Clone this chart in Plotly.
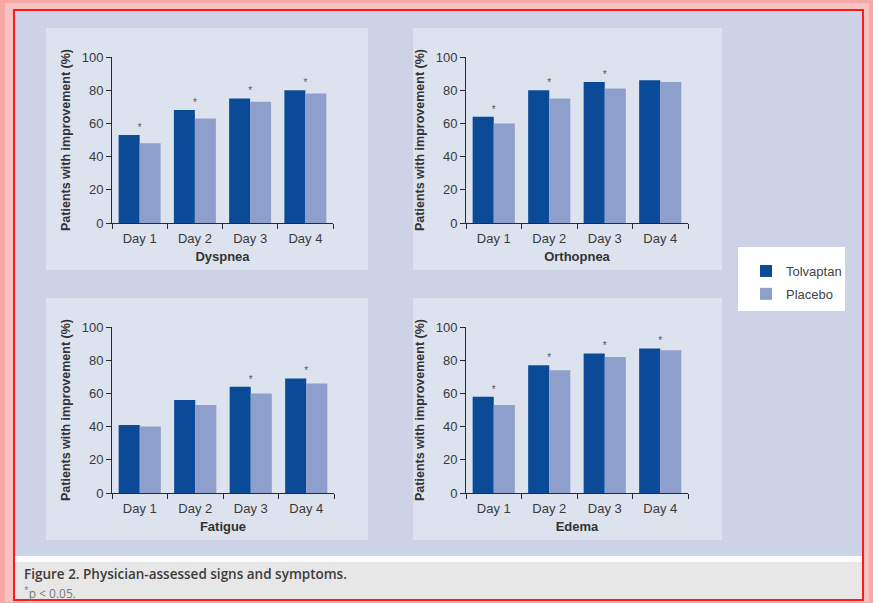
import plotly.graph_objects as go

W, H = 873, 603

days = ["Day 1", "Day 2", "Day 3", "Day 4"]
series_names = ["Tolvaptan", "Placebo"]

# Percent of patients improved, per symptom
dyspnea_tolvaptan = [53, 68, 75, 80]
dyspnea_placebo = [48, 63, 73, 78]
dyspnea_sig = [True, True, True, True]

orthopnea_tolvaptan = [64, 80, 85, 86]
orthopnea_placebo = [60, 75, 81, 85]
orthopnea_sig = [True, True, True, False]

fatigue_tolvaptan = [41, 56, 64, 69]
fatigue_placebo = [40, 53, 60, 66]
fatigue_sig = [False, False, True, True]

edema_tolvaptan = [58, 77, 84, 87]
edema_placebo = [53, 74, 82, 86]
edema_sig = [True, True, True, True]

yticks = [0, 20, 40, 60, 80, 100]

c_tol = "#0b4a97"
c_pla = "#8e9fcb"
lavender = "#cdd3e6"
panel_bg = "#dde2ef"
axis_col = "#2a2a2a"
font_fam = "Liberation Sans, Arial, sans-serif"
cap_fam = "Open Sans, Liberation Sans, sans-serif"

# panel: (title, tolvaptan, placebo, sig, plot-area px box, panel px box)
panels = [
    ("Dyspnea", dyspnea_tolvaptan, dyspnea_placebo, dyspnea_sig, (112, 333, 57, 223), (46, 368, 28, 270)),
    ("Orthopnea", orthopnea_tolvaptan, orthopnea_placebo, orthopnea_sig, (466, 688, 57, 223), (413, 722, 28, 270)),
    ("Fatigue", fatigue_tolvaptan, fatigue_placebo, fatigue_sig, (112, 334, 327, 493), (46, 368, 298, 540)),
    ("Edema", edema_tolvaptan, edema_placebo, edema_sig, (466, 688, 327, 493), (413, 722, 298, 540)),
]


def fx(px):
    return px / W


def fy(py):
    return 1 - py / H


fig = go.Figure()
shapes = []

# outer frame: pink halo, red border, lavender field, caption strip
shapes.append(dict(type="rect", xref="paper", yref="paper", x0=0, x1=1, y0=0, y1=1,
                   fillcolor="#f5aaa8", line=dict(width=0), layer="below"))
shapes.append(dict(type="rect", xref="paper", yref="paper", x0=fx(5), x1=fx(869), y0=fy(602), y1=fy(3),
                   fillcolor="#f8c2c0", line=dict(width=0), layer="below"))
shapes.append(dict(type="rect", xref="paper", yref="paper", x0=fx(14), x1=fx(863), y0=fy(600), y1=fy(10),
                   fillcolor=lavender, line=dict(color="#ff1a1a", width=2), layer="below"))
shapes.append(dict(type="rect", xref="paper", yref="paper", x0=fx(15), x1=fx(862), y0=fy(599), y1=fy(556),
                   fillcolor="#fbfbfc", line=dict(width=0), layer="below"))
shapes.append(dict(type="rect", xref="paper", yref="paper", x0=fx(15), x1=fx(862), y0=fy(599), y1=fy(562),
                   fillcolor="#e7e7e8", line=dict(width=0), layer="below"))
# legend box
shapes.append(dict(type="rect", xref="paper", yref="paper", x0=fx(738), x1=fx(845), y0=fy(311), y1=fy(247),
                   fillcolor="white", line=dict(width=0), layer="below"))

layout_axes = {}
for i, (title, tol, pla, sig, box, pbox) in enumerate(panels):
    n = "" if i == 0 else str(i + 1)
    xa, ya = "x" + n, "y" + n
    x0, x1, y0, y1 = box
    px0, px1, py0, py1 = pbox
    shapes.append(dict(type="rect", xref="paper", yref="paper", x0=fx(px0), x1=fx(px1),
                       y0=fy(py1), y1=fy(py0), fillcolor=panel_bg, line=dict(width=0), layer="below"))
    fig.add_trace(go.Bar(x=days, y=tol, name=series_names[0], marker=dict(color=c_tol, line=dict(width=0)),
                         xaxis=xa, yaxis=ya, showlegend=(i == 0), legendgroup="t"))
    fig.add_trace(go.Bar(x=days, y=pla, name=series_names[1], marker=dict(color=c_pla, line=dict(width=0)),
                         xaxis=xa, yaxis=ya, showlegend=(i == 0), legendgroup="p"))
    # significance markers above each flagged day
    sx = [d for d, s in zip(days, sig) if s]
    sy = [max(t, p) + 4 for t, p, s in zip(tol, pla, sig) if s]
    fig.add_trace(go.Scatter(x=sx, y=sy, mode="text", text=["*"] * len(sx),
                             textfont=dict(size=10, color="#555555", family=font_fam),
                             textposition="middle center", showlegend=False, hoverinfo="skip",
                             xaxis=xa, yaxis=ya))
    layout_axes["xaxis" + n] = dict(
        domain=[fx(x0), fx(x1)], anchor=ya, type="category", tickson="boundaries", automargin=False,
        ticks="outside", ticklen=5, tickcolor=axis_col, showline=True, linecolor=axis_col, linewidth=1,
        tickfont=dict(size=13, color="#3a3a3a", family=font_fam), ticklabelstandoff=3,
        title=dict(text="<b>" + title + "</b>", font=dict(size=13, color="#333333", family=font_fam), standoff=7),
        showgrid=False, zeroline=False, fixedrange=True,
    )
    layout_axes["yaxis" + n] = dict(
        domain=[fy(y1), fy(y0)], anchor=xa, range=[0, 100], tickvals=yticks, automargin=False,
        ticks="outside", ticklen=5, tickcolor=axis_col, showline=True, linecolor=axis_col, linewidth=1,
        tickfont=dict(size=13, color="#3a3a3a", family=font_fam),
        title=dict(text="<b>Patients with improvement (%)</b>",
                   font=dict(size=12.5, color="#333333", family=font_fam), standoff=8),
        showgrid=False, zeroline=False, fixedrange=True,
    )

annotations = [
    dict(xref="paper", yref="paper", x=fx(22), y=fy(574), xanchor="left", yanchor="middle",
         text="Figure 2. Physician-assessed signs and symptoms.", showarrow=False,
         font=dict(size=13.5, color="#3c3c3c", family=cap_fam, weight=600)),
    dict(xref="paper", yref="paper", x=fx(22), y=fy(593), xanchor="left", yanchor="middle",
         text="<sup>*</sup>p < 0.05.", showarrow=False,
         font=dict(size=12, color="#7a7a7a", family=cap_fam)),
]

fig.update_layout(
    width=W, height=H, margin=dict(l=0, r=0, t=0, b=0, autoexpand=False),
    paper_bgcolor="#f5aaa8", plot_bgcolor="white",
    barmode="group", bargap=0.24, bargroupgap=0,
    font=dict(family=font_fam, color="#333333"),
    shapes=shapes, annotations=annotations,
    legend=dict(x=fx(746), y=fy(256), xanchor="left", yanchor="top",
                bgcolor="rgba(0,0,0,0)", borderwidth=0,
                font=dict(size=13, color="#444444", family=font_fam),
                itemwidth=30, tracegroupgap=3),
    **layout_axes,
)

fig.write_html("out.html")
